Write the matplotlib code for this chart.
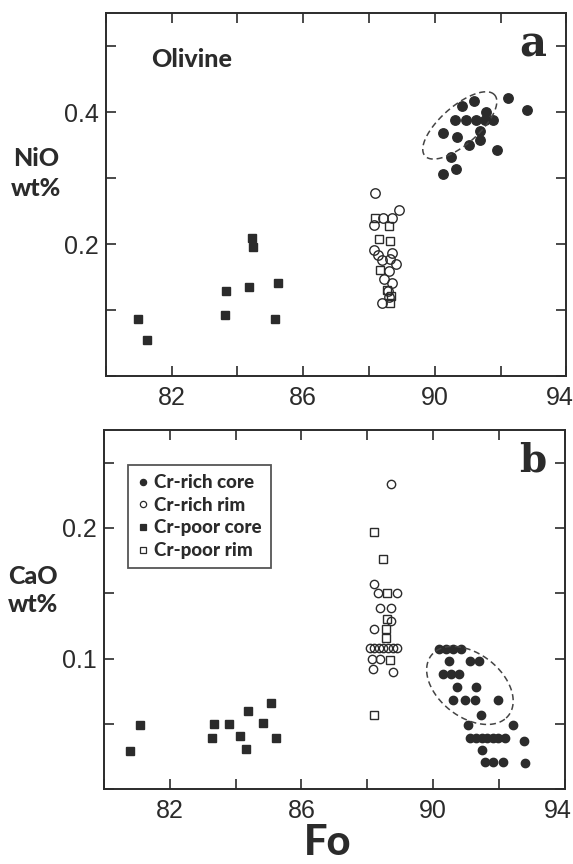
import numpy as np
import matplotlib
matplotlib.use("Agg")
import matplotlib.pyplot as plt
from matplotlib.transforms import ScaledTranslation

# ---------------- data ----------------
# Panel a: NiO wt% vs Fo
a_rich_core_fo = [92.21, 92.79, 91.19, 90.83, 91.55, 90.61, 90.94, 91.25, 91.52, 91.78,
                  90.26, 90.67, 91.37, 91.37, 91.05, 91.88, 90.49, 90.26, 90.64]
a_rich_core_nio = [0.422, 0.403, 0.417, 0.409, 0.401, 0.388, 0.388, 0.388, 0.388, 0.388,
                   0.369, 0.363, 0.372, 0.358, 0.351, 0.343, 0.332, 0.307, 0.314]
a_rich_rim_fo = [88.17, 88.92, 88.14, 88.44, 88.69, 88.14, 88.28, 88.41, 88.70, 88.81,
                 88.61, 88.47, 88.70, 88.59, 88.61, 88.39, 88.63]
a_rich_rim_nio = [0.277, 0.251, 0.229, 0.239, 0.239, 0.191, 0.184, 0.176, 0.186, 0.169,
                  0.159, 0.147, 0.141, 0.129, 0.120, 0.111, 0.178]
a_poor_core_fo = [80.98, 81.26, 83.66, 83.64, 84.44, 84.48, 84.35, 85.24, 85.13]
a_poor_core_nio = [0.087, 0.054, 0.129, 0.092, 0.209, 0.196, 0.135, 0.141, 0.086]
a_poor_rim_fo = [88.19, 88.61, 88.31, 88.64, 88.34, 88.55, 88.66, 88.64]
a_poor_rim_nio = [0.239, 0.227, 0.207, 0.204, 0.160, 0.130, 0.121, 0.111]

# Panel b: CaO wt% vs Fo
b_rich_core_fo = [90.18, 90.40, 90.62, 90.84,
                  90.48, 91.11, 91.39,
                  90.31, 90.53, 90.78,
                  90.72, 91.31,
                  90.61, 90.96, 91.28, 91.96,
                  91.46, 91.06, 92.42,
                  91.12, 91.31, 91.48, 91.64, 91.81, 91.98, 92.20,
                  92.76, 91.48,
                  91.59, 91.83, 92.14, 92.79]
b_rich_core_cao = [0.107, 0.107, 0.107, 0.107,
                   0.098, 0.098, 0.098,
                   0.088, 0.088, 0.088,
                   0.078, 0.078,
                   0.068, 0.068, 0.068, 0.068,
                   0.057, 0.049, 0.049,
                   0.039, 0.039, 0.039, 0.039, 0.039, 0.039, 0.039,
                   0.037, 0.030,
                   0.021, 0.021, 0.021, 0.020]
b_rich_rim_fo = [88.73, 88.20, 88.34, 88.89, 88.39, 88.71, 88.73, 88.22,
                 88.09, 88.22, 88.37, 88.48, 88.62, 88.78, 88.89,
                 88.14, 88.39, 88.18, 88.77]
b_rich_rim_cao = [0.234, 0.157, 0.150, 0.150, 0.139, 0.139, 0.129, 0.123,
                  0.108, 0.108, 0.108, 0.108, 0.108, 0.108, 0.108,
                  0.100, 0.100, 0.092, 0.090]
b_poor_core_fo = [80.78, 81.10, 83.27, 83.33, 83.80, 84.13, 84.37, 84.32, 84.82, 85.09, 85.22]
b_poor_core_cao = [0.029, 0.049, 0.039, 0.050, 0.050, 0.041, 0.060, 0.031, 0.051, 0.066, 0.039]
b_poor_rim_fo = [88.22, 88.48, 88.59, 88.59, 88.56, 88.56, 88.68, 88.22]
b_poor_rim_cao = [0.197, 0.176, 0.150, 0.130, 0.123, 0.116, 0.099, 0.057]

legend_labels = ["Cr-rich core", "Cr-rich rim", "Cr-poor core", "Cr-poor rim"]
x_label_values = [82, 86, 90, 94]
x_tick_labels = ["82", "86", "90", "94"]
a_y_label_values = [0.2, 0.4]
a_y_tick_labels = ["0.2", "0.4"]
b_y_label_values = [0.1, 0.2]
b_y_tick_labels = ["0.1", "0.2"]

# dashed outline ellipses: centre, major-axis vector, minor-axis vector (data units)
a_ell_center = (90.76, 0.380)
a_ell_u = (1.04, 0.0472)
a_ell_v = (0.43, -0.0195)
b_ell_center = (91.12, 0.0795)
b_ell_u = (1.10, -0.025)
b_ell_v = (0.72, 0.0164)

# ---------------- style ----------------
INK = "#2b2b2b"
COND = ["Lato", "DejaVu Sans"]
plt.rcParams["font.family"] = ["Liberation Sans", "DejaVu Sans"]

fig = plt.figure(figsize=(5.73, 8.64), dpi=100)
ax_a = fig.add_axes([0.1845, 0.565, 0.804, 0.4195])
ax_b = fig.add_axes([0.1815, 0.0865, 0.804, 0.4158])


def style(ax, ymax, ystep, ylab_vals, ylab_text):
    ax.set_xlim(80, 94)
    ax.set_ylim(0, ymax)
    for s in ax.spines.values():
        s.set_linewidth(1.4)
        s.set_color(INK)
    xt = np.arange(80, 94.01, 2)
    ax.set_xticks(xt)
    xl = []
    for v in xt:
        m = [i for i, lv in enumerate(x_label_values) if abs(lv - v) < 1e-9]
        xl.append(x_tick_labels[m[0]] if m else "")
    ax.set_xticklabels(xl)
    yt = np.arange(0, ymax + 1e-9, ystep)
    ax.set_yticks(yt)
    labs = []
    for v in yt:
        m = [i for i, lv in enumerate(ylab_vals) if abs(lv - v) < 1e-9]
        labs.append(ylab_text[m[0]] if m else "")
    ax.set_yticklabels(labs)
    ax.tick_params(direction="in", length=7, width=1.2, color=INK,
                   top=True, right=True, labelsize=18, labelcolor=INK)
    ax.tick_params(axis="x", pad=7)
    ax.tick_params(axis="y", pad=5)
    # last x label sits slightly left of its tick in the original
    lab = ax.get_xticklabels()[-1]
    lab.set_transform(lab.get_transform() + ScaledTranslation(-7 / 100, 0, fig.dpi_scale_trans))


def ellipse(ax, c, u, v):
    t = np.linspace(0, 2 * np.pi, 200)
    x = c[0] + u[0] * np.cos(t) + v[0] * np.sin(t)
    y = c[1] + u[1] * np.cos(t) + v[1] * np.sin(t)
    ax.plot(x, y, ls=(0, (4, 2.5)), color="#444444", lw=1.1)


def plot_sets(ax, rc, rr, pc, pr, ms_c, ms_s):
    ax.plot(*pc, ls="none", marker="s", ms=ms_s, mfc=INK, mec=INK, label=legend_labels[2])
    ax.plot(*pr, ls="none", marker="s", ms=ms_s, mfc="none", mec=INK, mew=1.0, label=legend_labels[3])
    ax.plot(*rr, ls="none", marker="o", ms=ms_c, mfc="none", mec=INK, mew=1.0, label=legend_labels[1])
    ax.plot(*rc, ls="none", marker="o", ms=ms_c, mfc=INK, mec=INK, label=legend_labels[0])


# panel a
plot_sets(ax_a, (a_rich_core_fo, a_rich_core_nio), (a_rich_rim_fo, a_rich_rim_nio),
          (a_poor_core_fo, a_poor_core_nio), (a_poor_rim_fo, a_poor_rim_nio), 6.8, 6.0)
ellipse(ax_a, a_ell_center, a_ell_u, a_ell_v)
style(ax_a, 0.55, 0.1, a_y_label_values, a_y_tick_labels)
ax_a.text(0.099, 0.874, "Olivine", transform=ax_a.transAxes, ha="left", va="center",
          fontsize=18, fontweight="black", color=INK, family=COND)
ax_a.text(0.928, 0.915, "a", transform=ax_a.transAxes, ha="center", va="center",
          fontsize=30, fontweight="bold", color=INK, family=["DejaVu Serif"])

# panel b
plot_sets(ax_b, (b_rich_core_fo, b_rich_core_cao), (b_rich_rim_fo, b_rich_rim_cao),
          (b_poor_core_fo, b_poor_core_cao), (b_poor_rim_fo, b_poor_rim_cao), 6.0, 6.2)
ellipse(ax_b, b_ell_center, b_ell_u, b_ell_v)
style(ax_b, 0.275, 0.05, b_y_label_values, b_y_tick_labels)
ax_b.text(0.93, 0.915, "b", transform=ax_b.transAxes, ha="center", va="center",
          fontsize=28, fontweight="bold", color=INK, family=["DejaVu Serif"])

h, l = ax_b.get_legend_handles_labels()
order = [l.index(s) for s in legend_labels]
leg_handles = []
for i in order:
    hh = h[i]
    leg_handles.append(plt.Line2D([], [], ls="none", marker=hh.get_marker(), ms=4.5,
                                  mfc=hh.get_markerfacecolor(), mec=INK, mew=0.9))
leg = ax_b.legend(leg_handles, legend_labels, loc="upper left", bbox_to_anchor=(0.052, 0.903),
                  borderaxespad=0, frameon=True, fancybox=False, handlelength=0.6,
                  handletextpad=0.3, labelspacing=0.3, borderpad=0.5,
                  prop={"family": COND, "weight": "black", "size": 13.5})
leg.get_frame().set_edgecolor(INK)
leg.get_frame().set_linewidth(1.3)
for t in leg.get_texts():
    t.set_color(INK)

# axis labels
for (x, y, s, fs) in [(36, 159, "NiO", 18), (36, 188, "wt%", 18),
                      (33, 576, "CaO", 18), (33, 605, "wt%", 18),
                      (328, 843, "Fo", 30)]:
    fig.text(x / 573, 1 - y / 864, s, ha="center", va="center", fontsize=fs,
             fontweight="black", color=INK, family=COND)

fig.savefig("out.png", dpi=100)
